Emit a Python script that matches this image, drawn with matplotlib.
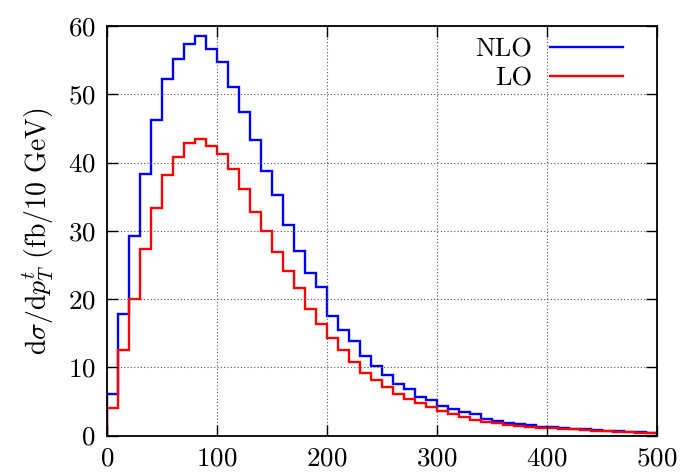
import numpy as np
import matplotlib
matplotlib.use("Agg")
import matplotlib.pyplot as plt

plt.rcParams["font.family"] = "serif"
plt.rcParams["font.serif"] = ["cmr10", "DejaVu Serif"]
plt.rcParams["mathtext.fontset"] = "cm"
plt.rcParams["axes.formatter.use_mathtext"] = True

# 10 GeV bins from 0 to 500
edges = np.arange(0, 510, 10)

nlo = [6.1, 17.8, 29.3, 38.3, 46.3, 52.3, 55.1, 57.3, 58.6, 56.6,
       54.7, 51.0, 47.4, 43.3, 38.8, 35.2, 30.9, 27.0, 23.8, 21.7,
       17.5, 15.5, 13.8, 11.7, 10.2, 8.9, 7.6, 6.8, 5.6, 5.2,
       4.3, 3.9, 3.4, 3.1, 2.4, 2.15, 1.8, 1.65, 1.5, 1.3,
       1.3, 1.05, 1.0, 0.9, 0.75, 0.7, 0.6, 0.5, 0.45, 0.4]

lo = [4.1, 12.5, 20.0, 27.3, 33.3, 38.2, 40.8, 42.9, 43.4, 42.4,
      41.2, 39.1, 36.1, 32.8, 30.0, 26.9, 24.1, 21.6, 18.6, 16.4,
      14.3, 12.5, 10.8, 9.2, 8.2, 7.1, 6.1, 5.3, 4.7, 4.2,
      3.6, 3.1, 2.7, 2.3, 2.0, 1.8, 1.55, 1.4, 1.25, 1.1,
      1.1, 1.0, 0.9, 0.8, 0.7, 0.6, 0.55, 0.5, 0.4, 0.35]

fig = plt.figure(figsize=(6.84, 4.72), dpi=100)
ax = fig.add_axes([0.1564, 0.0773, 0.8041, 0.8676])

ax.stairs(nlo, edges, color="#0000ff", lw=1.7, label="NLO")
ax.stairs(lo, edges, color="#ff0000", lw=1.7, label="LO")

ax.set_xlim(0, 500)
ax.set_ylim(0, 60)
ax.set_xticks(range(0, 501, 100))
ax.set_yticks(range(0, 61, 10))
ax.grid(True, color="#555555", ls=(0, (1, 2)), lw=0.8)
ax.tick_params(direction="in", length=8, width=1, top=True, right=True,
               labelsize=19.5, pad=8)
for s in ax.spines.values():
    s.set_linewidth(1.3)

ax.set_ylabel(r"$\mathrm{d}\sigma/\mathrm{d}p_T^t$ (fb/10 GeV)", fontsize=20, labelpad=8)

ax.legend(loc="upper right", frameon=False, markerfirst=False, fontsize=19,
          handlelength=2.76, handletextpad=0.7, labelspacing=0.2,
          borderaxespad=0.0, bbox_to_anchor=(0.958, 0.998))

fig.savefig("out.png", dpi=100)
